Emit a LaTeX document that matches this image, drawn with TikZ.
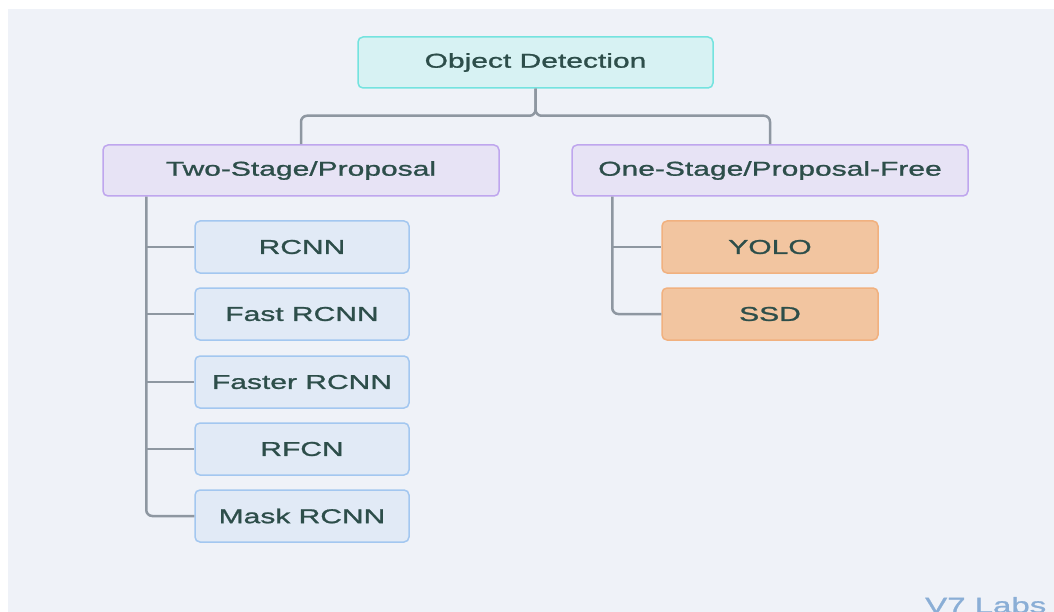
\documentclass[tikz,border=0pt]{standalone}
\usepackage{fontspec}
\setmainfont{Liberation Sans}[FakeStretch=1.5, FakeBold=1.2]
\usetikzlibrary{calc}
\definecolor{canvas}{HTML}{EFF2F8}
\definecolor{ink}{HTML}{2D4E4A}
\definecolor{wire}{HTML}{8E97A1}
\definecolor{rootfill}{HTML}{D7F2F3}
\definecolor{rootline}{HTML}{74E3DF}
\definecolor{catfill}{HTML}{E7E3F5}
\definecolor{catline}{HTML}{BFA6EE}
\definecolor{twofill}{HTML}{E1EAF6}
\definecolor{twoline}{HTML}{A3C7F0}
\definecolor{onefill}{HTML}{F2C5A0}
\definecolor{oneline}{HTML}{F1B17F}
\definecolor{brand}{HTML}{8AAED6}
\tikzset{
  box/.style={rectangle, rounded corners=5pt, line width=1.5pt, text=ink,
    font=\fontsize{20}{24}\selectfont, inner sep=0pt},
  rootbox/.style={box, fill=rootfill, draw=rootline, minimum width=355pt, minimum height=51pt},
  catbox/.style={box, fill=catfill, draw=catline, minimum width=396pt, minimum height=51pt},
  twobox/.style={box, fill=twofill, draw=twoline, minimum width=214pt, minimum height=52pt},
  onebox/.style={box, fill=onefill, draw=oneline, minimum width=216pt, minimum height=52pt},
  conn/.style={draw=wire, line width=2.5pt, rounded corners=6pt},
}
\begin{document}
\begin{tikzpicture}[x=1pt, y=-1pt]
  % page and canvas
  \useasboundingbox (0,0) rectangle (1054,612);
  \clip (0,0) rectangle (1054,612);
  \fill[white] (0,0) rectangle (1054,612);
  \fill[canvas] (8,9.5) rectangle (1054,612);

  % root and the two families
  \node[rootbox] (od)  at (535.5,62.5) {Object Detection};
  \node[catbox]  (two) at (301,170.5)  {Two-Stage/Proposal};
  \node[catbox]  (one) at (770,170.5)  {One-Stage/Proposal-Free};

  % two-stage detectors
  \node[twobox] (rcnn)   at (302,247) {RCNN};
  \node[twobox] (fast)   at (302,314) {Fast RCNN};
  \node[twobox] (faster) at (302,382) {Faster RCNN};
  \node[twobox] (rfcn)   at (302,449) {RFCN};
  \node[twobox] (mask)   at (302,516) {Mask RCNN};

  % one-stage detectors
  \node[onebox] (yolo) at (770,247) {YOLO};
  \node[onebox] (ssd)  at (770,314) {SSD};

  % root to families
  \draw[conn] (od.south) -- ++(0,27) -| (two.north);
  \draw[conn] (od.south) -- ++(0,27) -| (one.north);

  % two-stage trunk and branches
  \coordinate (ltop) at ($(two.south west)+(44,0)$);
  \draw[conn] (ltop) |- (mask.west);
  \foreach \n in {rcnn,fast,faster,rfcn}
    \draw[conn] (ltop |- \n.west) -- (\n.west);

  % one-stage trunk and branches
  \coordinate (rtop) at ($(one.south west)+(41,0)$);
  \draw[conn] (rtop) |- (ssd.west);
  \draw[conn] (rtop |- yolo.west) -- (yolo.west);

  % brand mark, running off the lower edge
  \node[anchor=base west, inner sep=0pt, text=brand,
        font=\fontsize{22}{26}\selectfont] (brandmark) at (925,613) {V7 Labs};
\end{tikzpicture}
\end{document}
